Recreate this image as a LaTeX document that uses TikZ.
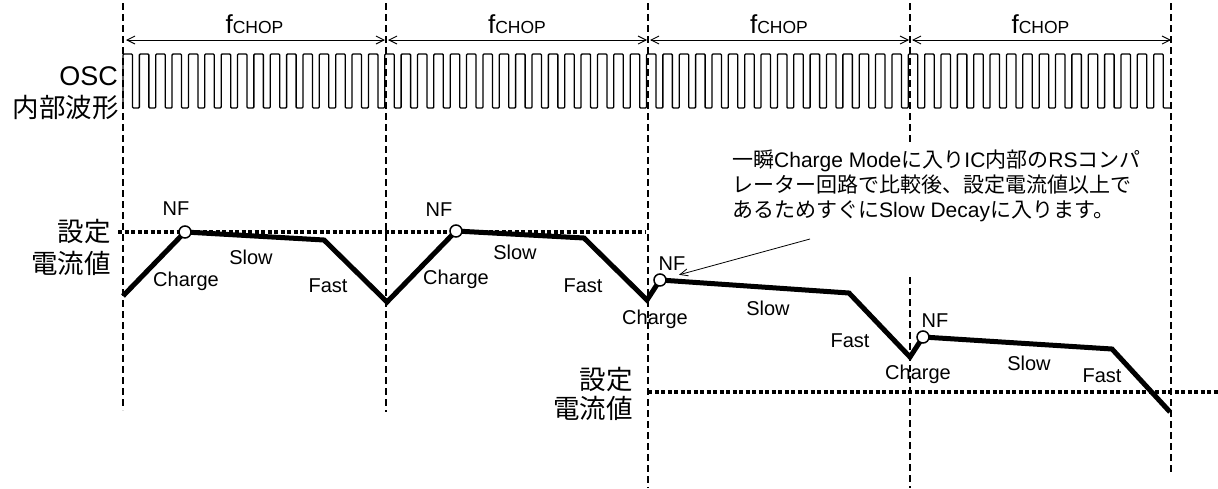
\documentclass[tikz,border=0pt]{standalone}
\usepackage{fontspec}
\setmainfont{Liberation Sans}
\newfontfamily\cjk{Noto Sans CJK JP}
\usetikzlibrary{arrows.meta}

\tikzset{
    guide/.style={line width=1.2pt, dash pattern=on 7pt off 4pt},
    setline/.style={line width=3.5pt, dash pattern=on 4pt off 2.5pt},
    current/.style={line width=5pt, line join=miter},
    nfdot/.style={circle, draw, line width=1.5pt, fill=white, minimum size=12pt, inner sep=0pt},
    lbl/.style={font=\fontsize{20}{24}\selectfont, inner sep=0pt, anchor=base},
    sig/.style={font=\fontsize{27}{30}\selectfont, inner sep=0pt, anchor=base east},
    sigjp/.style={font=\cjk\fontsize{26.5}{30}\selectfont, inner sep=0pt, anchor=base east},
    notejp/.style={font=\fontsize{21}{25}\selectfont, inner sep=0pt, anchor=base west},
    fchop/.style={font=\fontsize{26}{28}\selectfont, inner sep=0pt, anchor=base},
    span/.style={{Straight Barb[length=8pt,width=8pt]}-{Straight Barb[length=8pt,width=8pt]}, line width=0.9pt},
}

\begin{document}
\begin{tikzpicture}[x=1pt, y=-1pt]
    \useasboundingbox (0,0) rectangle (1218,488);

    % 竖直虚线
    \draw[guide] (123,3) -- (123,410);
    \draw[guide] (386,3) -- (386,412);
    \draw[guide] (648,3) -- (648,488);
    \draw[guide] (910,3) -- (910,142);
    \draw[guide] (910,277) -- (910,488);
    \draw[guide] (1171,3) -- (1171,472);

    % f_CHOP 区间箭头
    \coordinate (t1) at (126,40);
    \coordinate (t2a) at (385,40);
    \coordinate (t2b) at (388,40);
    \coordinate (t3a) at (647,40);
    \coordinate (t3b) at (650,40);
    \coordinate (t4a) at (909,40);
    \coordinate (t4b) at (912,40);
    \coordinate (t5) at (1171,40);
    \draw[span] (t1) -- (t2a);
    \draw[span] (t2b) -- (t3a);
    \draw[span] (t3b) -- (t4a);
    \draw[span] (t4b) -- (t5);
    \node[fchop] (f1) at (254.5,33) {f{\fontsize{17.5}{20}\selectfont CHOP}};
    \node[fchop] (f2) at (517,33) {f{\fontsize{17.5}{20}\selectfont CHOP}};
    \node[fchop] (f3) at (779,33) {f{\fontsize{17.5}{20}\selectfont CHOP}};
    \node[fchop] (f4) at (1040.5,33) {f{\fontsize{17.5}{20}\selectfont CHOP}};

    % OSC 内部波形
    \node[sig] (osc) at (118,85) {OSC};
    \node[sigjp] (oscjp) at (119,117) {内部波形};
    \draw[line width=1.3pt, rounded corners=1pt] (123,108)
        \foreach \i in {0,...,63} {
            -- ({123+\i*16.36},54) -- ({123+\i*16.36+9.5},54)
            -- ({123+\i*16.36+9.5},108) -- ({123+(\i+1)*16.36},108)
        };

    % 设定电流值（虚线）
    \draw[setline] (118,232) -- (645,232);
    \draw[setline] (648,392) -- (1218,392);
    \node[sigjp] (set1a) at (111,241) {設定};
    \node[sigjp] (set1b) at (111,273) {電流値};
    \node[sigjp] (set2a) at (633,389) {設定};
    \node[sigjp] (set2b) at (633,418) {電流値};

    % 电流波形
    \draw[current] (123,296) -- (185,232) -- (324,240) -- (387,302)
        -- (456,231) -- (584,238) -- (647,300)
        -- (660,280) -- (849,293) -- (910,357)
        -- (923,337) -- (1112,349) -- (1170,412);
    \node[nfdot] (dot1) at (185,232) {};
    \node[nfdot] (dot2) at (456,231) {};
    \node[nfdot] (dot3) at (660,280) {};
    \node[nfdot] (dot4) at (923,337) {};

    % 各区间标签
    \node[lbl] (nf1) at (176,215) {NF};
    \node[lbl] (chg1) at (186,286) {Charge};
    \node[lbl] (slow1) at (251,264) {Slow};
    \node[lbl] (fast1) at (328,292) {Fast};

    \node[lbl] (nf2) at (439,216) {NF};
    \node[lbl] (chg2) at (456,284) {Charge};
    \node[lbl] (slow2) at (515,259) {Slow};
    \node[lbl] (fast2) at (583,292) {Fast};

    \node[lbl] (nf3) at (672,270) {NF};
    \node[lbl] (chg3) at (655,324) {Charge};
    \node[lbl] (slow3) at (768,315) {Slow};
    \node[lbl] (fast3) at (850,347) {Fast};

    \node[lbl] (nf4) at (935,327) {NF};
    \node[lbl] (chg4) at (918,379) {Charge};
    \node[lbl] (slow4) at (1029,370) {Slow};
    \node[lbl] (fast4) at (1102,382) {Fast};

    % 说明文字 + 引线
    \node[notejp] (note1) at (732,167) {{\cjk 一瞬}Charge Mode{\cjk に入り}IC{\cjk 内部の}RS{\cjk コンパ}};
    \node[notejp] (note2) at (732,192) {\cjk レーター回路で比較後、設定電流値以上で};
    \node[notejp] (note3) at (732,217) {{\cjk あるためすぐに}Slow Decay{\cjk に入ります。}};
    \coordinate (ns) at (810,239);
    \draw[-{Straight Barb[length=8pt,width=7pt]}, line width=0.8pt, shorten >=13pt] (ns) -- (dot3);
\end{tikzpicture}
\end{document}
